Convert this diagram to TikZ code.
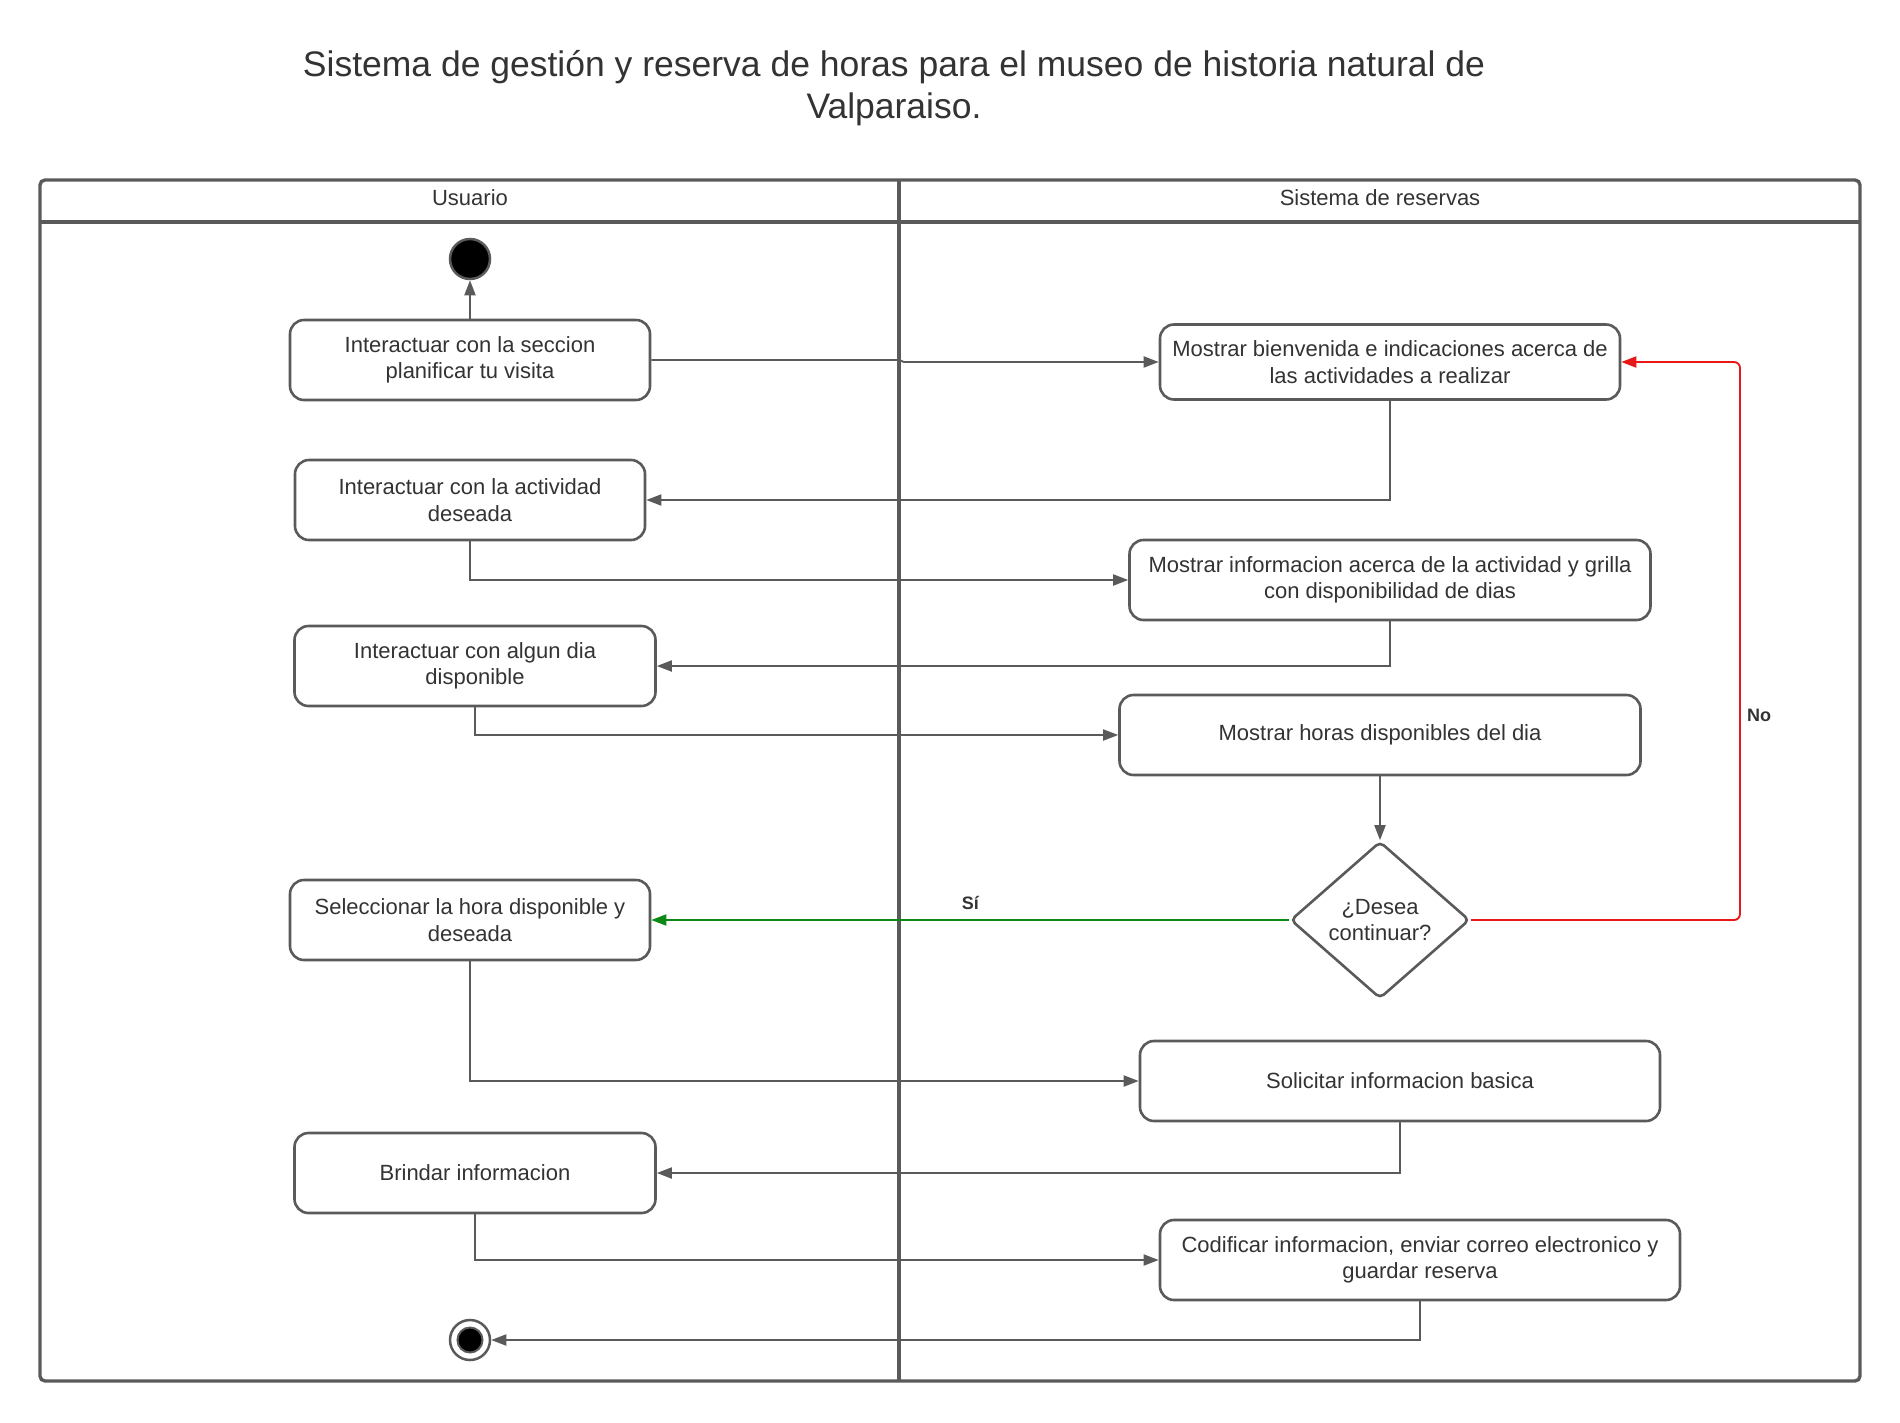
\documentclass[tikz,border=0pt]{standalone}
\usepackage{fontspec}
\setmainfont{Liberation Sans}
\usetikzlibrary{arrows.meta,shapes.geometric,calc}
\definecolor{ln}{HTML}{5A5A5A}
\definecolor{tx}{HTML}{333333}
\definecolor{gr}{HTML}{0A8A14}
\definecolor{rd}{HTML}{E81818}
\begin{document}
\begin{tikzpicture}[x=1pt,y=-1pt,
  act/.style={draw=ln, line width=2.6pt, rounded corners=14pt, fill=white, align=center, text=tx,
    font=\fontsize{22}{26.5}\selectfont, inner sep=0pt, minimum height=80pt},
  arr/.style={draw=ln, line width=1.9pt, -{Triangle[length=15pt,width=11pt]}},
  lbl/.style={text=tx, font=\fontsize{18}{20}\selectfont\bfseries, inner sep=0pt},
  hdr/.style={text=tx, font=\fontsize{22}{26}\selectfont, inner sep=0pt},
  pool/.style={draw=ln, line width=3.4pt}]
\useasboundingbox (0,0) rectangle (1900,1422);
% title
\node[text=tx, align=center, font=\fontsize{35.5}{42.5}\selectfont, inner sep=0pt] (title) at (894,88)
  {Sistema de gestión y reserva de horas para el museo de historia natural de\\Valparaiso.};
% pool
\draw[pool, rounded corners=5pt] (40,180) rectangle (1860,1381);
\draw[pool] (40,222) -- (1860,222);
\coordinate (divtop) at (899,180);
\coordinate (divbot) at (899,1381);
\draw[pool] (divtop) -- (divbot);
\node[hdr] (h1) at (470,198) {Usuario};
\node[hdr] (h2) at (1380,198) {Sistema de reservas};
% start / end
\node[circle, fill=black, draw=ln, line width=2.5pt, minimum size=40pt, inner sep=0pt] (st) at (470,259) {};
\node[circle, fill=white, draw=ln, line width=2.5pt, minimum size=40pt, inner sep=0pt] (en) at (470,1340) {};
\node[circle, fill=black, draw=ln, line width=2pt, minimum size=25pt, inner sep=0pt] (enin) at (470,1340) {};
% activities
\node[act, minimum width=360pt] (A1) at (470,360) {Interactuar con la seccion\\planificar tu visita};
\node[act, minimum width=460pt, minimum height=75pt] (B1) at (1390,362) {Mostrar bienvenida e indicaciones acerca de\\las actividades a realizar};
\node[act, minimum width=350pt] (A2) at (470,500) {Interactuar con la actividad\\deseada};
\node[act, minimum width=521pt] (B2) at (1390,580) {Mostrar informacion acerca de la actividad y grilla\\con disponibilidad de dias};
\node[act, minimum width=361pt] (A3) at (475,666) {Interactuar con algun dia\\disponible};
\node[act, minimum width=521pt] (B3) at (1380,735) {Mostrar horas disponibles del dia};
\node[diamond, draw=ln, line width=2.6pt, rounded corners=5pt, fill=white, text=tx, align=center,
  font=\fontsize{22}{26.5}\selectfont, inner sep=0pt, aspect=1.14,
  minimum width=179pt, minimum height=157pt] (D) at (1380,920) {¿Desea\\continuar?};
\node[act, minimum width=360pt] (A4) at (470,920) {Seleccionar la hora disponible y\\deseada};
\node[act, minimum width=520pt] (B4) at (1400,1081) {Solicitar informacion basica};
\node[act, minimum width=361pt] (A5) at (475,1173) {Brindar informacion};
\node[act, minimum width=520pt] (B5) at (1420,1260) {Codificar informacion, enviar correo electronico y\\guardar reserva};
% connectors
\draw[arr] (A1.north) -- (st.south);
\draw[arr] (A1.east) -- (A1.east -| divtop) -- ([xshift=5pt]B1.west -| divtop) -- (B1.west);
\draw[arr] (B1.south) |- (A2.east);
\draw[arr] (A2.south) |- (B2.west);
\draw[arr] (B2.south) |- (A3.east);
\draw[arr] (A3.south) |- (B3.west);
\draw[arr] (B3.south) -- (D.north);
\draw[arr, draw=gr] (D.west) -- node[lbl, midway, above=9pt] (si) {Sí} (A4.east);
\coordinate (noc) at (1740,362);
\draw[arr, draw=rd, rounded corners=6pt] (D.east) -| (noc) -- (B1.east);
\node[lbl] (no) at (1759,715) {No};
\draw[arr] (A4.south) |- (B4.west);
\draw[arr] (B4.south) |- (A5.east);
\draw[arr] (A5.south) |- (B5.west);
\draw[arr] (B5.south) |- (en.east);
\end{tikzpicture}
\end{document}
